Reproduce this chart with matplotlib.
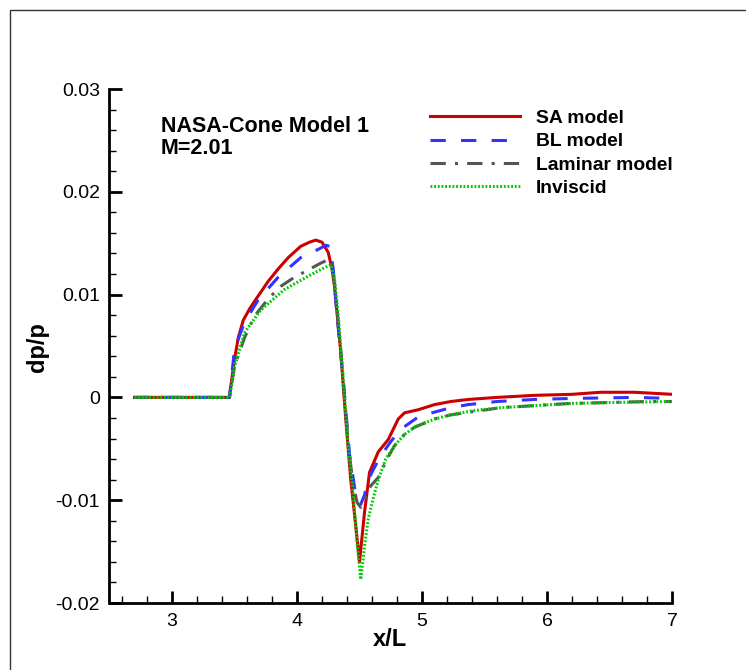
import matplotlib
matplotlib.use("Agg")
import matplotlib.pyplot as plt
from matplotlib.ticker import MultipleLocator, FixedLocator
from matplotlib.patches import Rectangle

plt.rcParams['font.family'] = ['Liberation Sans', 'DejaVu Sans']

# Pressure signature dp/p along x/L
sa_x = [2.7, 3.46, 3.475, 3.5, 3.53, 3.57, 3.62, 3.68, 3.77, 3.85, 3.93, 4.03, 4.1, 4.15, 4.2,
        4.25, 4.28, 4.3, 4.35, 4.39, 4.43, 4.47, 4.5, 4.54, 4.58, 4.65, 4.73, 4.81, 4.86, 4.97,
        5.1, 5.23, 5.37, 5.6, 5.9, 6.2, 6.43, 6.7, 7.0]
sa_y = [0, 0, 0.0015, 0.0037, 0.0058, 0.0075, 0.0086, 0.0097, 0.0113, 0.0125, 0.0136, 0.0147,
        0.0151, 0.0153, 0.0151, 0.0141, 0.0125, 0.0108, 0.0044, -0.0021, -0.008, -0.0125,
        -0.0160, -0.0112, -0.0073, -0.0053, -0.0041, -0.0021, -0.0015, -0.0012, -0.0007,
        -0.0004, -0.0002, 0.0, 0.0002, 0.0003, 0.0005, 0.0005, 0.0003]

bl_x = [2.7, 3.46, 3.475, 3.5, 3.58, 3.69, 3.85, 4.03, 4.17, 4.23, 4.26, 4.29, 4.32, 4.37,
        4.42, 4.47, 4.51, 4.54, 4.57, 4.62, 4.67, 4.75, 4.83, 4.97, 5.05, 5.23, 5.37, 5.6,
        5.9, 6.2, 6.7, 7.0]
bl_y = [0, 0, 0.0018, 0.0047, 0.0073, 0.0095, 0.0117, 0.0136, 0.0144, 0.0148, 0.0147, 0.0125,
        0.008, 0.0017, -0.0055, -0.0095, -0.0104, -0.0095, -0.0080, -0.0068, -0.0057, -0.0043,
        -0.0031, -0.0019, -0.0016, -0.0010, -0.0007, -0.0004, -0.0002, -0.0001, 0.0, -0.0001]

lam_x = [2.7, 3.46, 3.475, 3.5, 3.58, 3.66, 3.77, 3.87, 3.98, 4.09, 4.18, 4.25, 4.28, 4.31,
         4.37, 4.41, 4.45, 4.48, 4.51, 4.55, 4.59, 4.65, 4.72, 4.78, 4.86, 4.94, 5.1, 5.23,
         5.63, 6.17, 6.8, 7.0]
lam_y = [0, 0, 0.0012, 0.003, 0.0058, 0.0079, 0.0096, 0.0108, 0.0117, 0.0124, 0.013, 0.0134,
         0.0133, 0.0100, 0.0017, -0.0047, -0.0085, -0.0102, -0.0107, -0.0097, -0.0086, -0.0078,
         -0.006, -0.0047, -0.0036, -0.0029, -0.0021, -0.0017, -0.0010, -0.0006, -0.0004, -0.0004]

inv_x = [2.7, 3.46, 3.475, 3.5, 3.58, 3.71, 3.9, 4.09, 4.2, 4.27, 4.3, 4.33, 4.37, 4.41, 4.45,
         4.48, 4.51, 4.54, 4.57, 4.61, 4.65, 4.71, 4.78, 4.86, 4.94, 5.1, 5.23, 5.4, 5.63,
         5.9, 6.17, 6.5, 7.0]
inv_y = [0, 0, 0.001, 0.003, 0.0063, 0.0085, 0.0105, 0.0118, 0.0125, 0.0129, 0.0115, 0.008,
         0.0017, -0.0047, -0.0095, -0.014, -0.0177, -0.0145, -0.0118, -0.0098, -0.008, -0.006,
         -0.0047, -0.0036, -0.0029, -0.0021, -0.0017, -0.0013, -0.0010, -0.0008, -0.0006,
         -0.0005, -0.0004]

labels = ["SA model", "BL model", "Laminar model", "Inviscid"]
x_ticks = [3, 4, 5, 6, 7]
y_ticks = [-0.02, -0.01, 0, 0.01, 0.02, 0.03]
y_ticklabels = ["-0.02", "-0.01", "0", "0.01", "0.02", "0.03"]

W, H = 746, 670
fig = plt.figure(figsize=(W / 100, H / 100), dpi=100)
fig.patches.append(Rectangle((10 / W, -0.1), 1.2, (660 / H) + 0.1,
                             transform=fig.transFigure, fill=False,
                             edgecolor="#333333", linewidth=1.0))
ax = fig.add_axes([109.5 / W, 67 / H, 562.5 / W, 514 / H])

ax.plot(sa_x, sa_y, color="#cc0000", lw=2.2, ls="-", label=labels[0])
ax.plot(bl_x, bl_y, color="#3333ff", lw=2.2, ls=(0, (5, 5)), label=labels[1])
ax.plot(lam_x, lam_y, color="#555555", lw=2.2, ls=(0, (5, 3, 1, 3)), label=labels[2])
ax.plot(inv_x, inv_y, color="#00cc00", lw=2.2, ls=(0, (0.6, 0.6)), label=labels[3])

ax.set_xlim(2.5, 7.0)
ax.set_ylim(-0.02, 0.03)
for s in ("top", "right"):
    ax.spines[s].set_visible(False)
for s in ("left", "bottom"):
    ax.spines[s].set_linewidth(2.0)

ax.xaxis.set_major_locator(FixedLocator(x_ticks))
ax.xaxis.set_minor_locator(MultipleLocator(0.2))
ax.set_yticks(y_ticks)
ax.set_yticklabels(y_ticklabels)
ax.yaxis.set_minor_locator(MultipleLocator(0.002))
ax.tick_params(which="major", direction="in", length=9, width=2.0, labelsize=14, pad=7)
ax.tick_params(which="minor", direction="in", length=5, width=1.0)
ax.tick_params(axis="x", which="both", top=False)
ax.tick_params(axis="y", which="both", right=False)

ax.set_xlabel("x/L", fontsize=17, fontweight="bold")
ax.xaxis.set_label_coords(390 / W, 1 - 639 / H, transform=fig.transFigure)
ax.xaxis.label.set_va("center")
ax.set_ylabel("dp/p", fontsize=17, fontweight="bold")
ax.yaxis.set_label_coords(38 / W, 1 - 347 / H, transform=fig.transFigure)
ax.yaxis.label.set_va("center")

fig.text(161 / W, 1 - 132 / H, "NASA-Cone Model 1", fontsize=15.5,
         fontweight="bold", va="baseline", ha="left")
fig.text(161 / W, 1 - 154 / H, "M=2.01", fontsize=15.5,
         fontweight="bold", va="baseline", ha="left")

leg = ax.legend(loc="upper left", bbox_to_anchor=(416 / W, 1 - 96 / H),
                bbox_transform=fig.transFigure, frameon=False, handlelength=4.7,
                handletextpad=0.8, labelspacing=0.3, borderpad=0.2,
                prop={"weight": "bold", "size": 13.9})

fig.savefig("out.png", dpi=100)
